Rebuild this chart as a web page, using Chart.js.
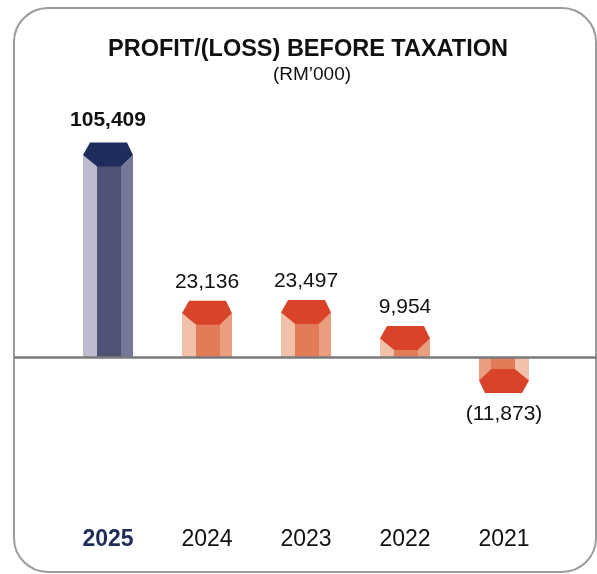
<!DOCTYPE html>
<html lang="en">
  <head>
    <meta charset="UTF-8" />
    <title>Profit/(Loss) Before Taxation</title>
    <style>
      html, body { margin: 0; padding: 0; background: #fff; }
      canvas { display: block; }
    </style>
  </head>
  <body>
    <canvas id="myChart" width="597" height="574"></canvas>
    <script src="https://cdn.jsdelivr.net/npm/chart.js"></script>
    <script>
      // data
      const years = ['2025', '2024', '2023', '2022', '2021'];
      const profitBeforeTax = [105409, 23136, 23497, 9954, -11873];
      const highlightYear = '2025';

      const titleText = 'PROFIT/(LOSS) BEFORE TAXATION';
      const subtitleText = '(RM\u2019000)';

      const FONT = '"Liberation Sans", Arial, Helvetica, sans-serif';
      const navy = { cap: '#1e2d5b', left: '#bdbccf', mid: '#4e5275', right: '#75779a' };
      const orange = { cap: '#d8432a', light: '#f1c1a9', mid: '#e27b58', medium: '#e99e7f' };

      const fmt = (v) => (v < 0 ? '(' + Math.abs(v).toLocaleString('en-US') + ')' : v.toLocaleString('en-US'));

      const fillPoly = (ctx, pts, color) => {
        ctx.beginPath();
        ctx.moveTo(pts[0][0], pts[0][1]);
        for (let i = 1; i < pts.length; i++) ctx.lineTo(pts[i][0], pts[i][1]);
        ctx.closePath();
        ctx.fillStyle = color;
        ctx.fill();
      };

      // frame + title, drawn behind everything
      const framePlugin = {
        id: 'frame',
        beforeDraw(chart) {
          const ctx = chart.ctx;
          ctx.save();
          ctx.strokeStyle = '#9b9b9b';
          ctx.lineWidth = 2;
          ctx.beginPath();
          ctx.roundRect(14, 8, 582, 564, 34);
          ctx.stroke();

          ctx.fillStyle = '#111';
          ctx.textAlign = 'center';
          ctx.textBaseline = 'alphabetic';
          ctx.font = 'bold 23.5px ' + FONT;
          ctx.fillText(titleText, 308, 56);
          ctx.font = '19px ' + FONT;
          ctx.fillText(subtitleText, 312, 80);
          ctx.restore();
        },
      };

      // hexagonal prism bars, zero line and value labels
      const hexBars = {
        id: 'hexBars',
        afterDatasetsDraw(chart) {
          const ctx = chart.ctx;
          const meta = chart.getDatasetMeta(0);
          const yScale = chart.scales.y;
          const zero = yScale.getPixelForValue(0);
          ctx.save();
          meta.data.forEach((bar, i) => {
            const v = profitBeforeTax[i];
            const hl = years[i] === highlightYear;
            const w = bar.width;
            const x0 = bar.x - w / 2;
            const x1 = bar.x + w / 2;
            const t = bar.y;
            const b = bar.base;
            const hUp = 12.5;
            const hDn = 11.5;
            if (v >= 0) {
              const c0 = x0 + 0.28 * w;
              const c1 = x0 + 0.76 * w;
              const cl = hl ? navy.left : orange.light;
              const cm = hl ? navy.mid : orange.mid;
              const cr = hl ? navy.right : orange.medium;
              fillPoly(ctx, [[x0, t], [c0, t + hDn], [c0, b], [x0, b]], cl);
              fillPoly(ctx, [[c0, t], [c1, t], [c1, b], [c0, b]], cm);
              fillPoly(ctx, [[c1, t + hDn], [x1, t], [x1, b], [c1, b]], cr);
              fillPoly(
                ctx,
                [[x0, t], [x0 + 0.14 * w, t - hUp], [x1 - 0.12 * w, t - hUp], [x1, t], [c1, t + hDn], [c0, t + hDn]],
                hl ? navy.cap : orange.cap
              );
            } else {
              const c0 = x0 + 0.24 * w;
              const c1 = x0 + 0.72 * w;
              fillPoly(ctx, [[x0, b], [c0, b], [c0, t - hDn], [x0, t]], orange.medium);
              fillPoly(ctx, [[c0, b], [c1, b], [c1, t], [c0, t]], orange.mid);
              fillPoly(ctx, [[c1, b], [x1, b], [x1, t], [c1, t - hDn]], orange.light);
              fillPoly(
                ctx,
                [[x0, t], [c0, t - hDn], [c1, t - hDn], [x1, t], [x1 - 0.14 * w, t + hUp], [x0 + 0.12 * w, t + hUp]],
                orange.cap
              );
            }
          });

          // zero line across the whole frame
          ctx.strokeStyle = '#7a7a7a';
          ctx.lineWidth = 2.5;
          ctx.beginPath();
          ctx.moveTo(14, zero);
          ctx.lineTo(597, zero);
          ctx.stroke();

          // value labels
          ctx.textAlign = 'center';
          ctx.textBaseline = 'middle';
          ctx.fillStyle = '#111';
          meta.data.forEach((bar, i) => {
            const v = profitBeforeTax[i];
            const hl = years[i] === highlightYear;
            ctx.font = (hl ? 'bold ' : '') + '21px ' + FONT;
            const y = v >= 0 ? bar.y - (hl ? 35 : 31) : bar.y + 34;
            ctx.fillText(fmt(v), bar.x, y);
          });
          ctx.restore();
        },
      };

      const data = {
        labels: years,
        datasets: [
          {
            label: 'Profit/(Loss) before taxation',
            data: profitBeforeTax,
            backgroundColor: 'rgba(0,0,0,0)',
            borderWidth: 0,
            barPercentage: 0.505,
            categoryPercentage: 1,
          },
        ],
      };

      const config = {
        type: 'bar',
        data: data,
        options: {
          responsive: false,
          animation: false,
          devicePixelRatio: 1,
          layout: { padding: { top: 116, left: 58.5, right: 43.5, bottom: 13.4 } },
          plugins: {
            legend: { display: false },
            tooltip: { enabled: false },
          },
          scales: {
            x: {
              grid: { display: false, drawTicks: false },
              border: { display: false },
              ticks: {
                padding: 7,
                maxRotation: 0,
                autoSkip: false,
                color: (c) => (years[c.index] === highlightYear ? '#1e2d5b' : '#111'),
                font: (c) => ({
                  family: FONT,
                  size: 23,
                  weight: years[c.index] === highlightYear ? 'bold' : 'normal',
                }),
              },
            },
            y: {
              display: false,
              min: -84000,
              max: 125760,
            },
          },
        },
        plugins: [framePlugin, hexBars],
      };

      const myChart = new Chart(document.getElementById('myChart'), config);
    </script>
  </body>
</html>
